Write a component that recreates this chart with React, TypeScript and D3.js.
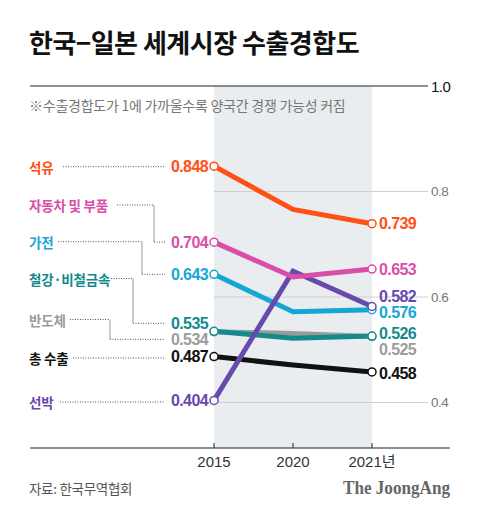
import React from "react";
import * as d3 from "d3";

const categories = ["석유", "자동차 및 부품", "가전", "철강·비철금속", "반도체", "총 수출", "선박"];
const years = ["2015", "2020", "2021"];
const values2015 = [0.848, 0.704, 0.643, 0.535, 0.534, 0.487, 0.404];
const values2020 = [0.766, 0.638, 0.572, 0.522, 0.531, 0.471, 0.649];
const values2021 = [0.739, 0.653, 0.576, 0.526, 0.525, 0.458, 0.582];
const yTicks = [1.0, 0.8, 0.6, 0.4];
const yearLabels = ["2015", "2020", "2021년"];

// styling / layout (not data)
const colors = ["#ff5016", "#d94fa8", "#16a6d6", "#138a8c", "#9a9a9a", "#111111", "#6849ad"];
const valueColors = ["#ff5016", "#d94fa8", "#16a6d6", "#138a8c", "#9c9c9c", "#111111", "#6849ad"];
const drawOrder = [4, 3, 5, 2, 6, 1, 0];
const catLabelY = [166.7, 205, 241.7, 278.5, 319.5, 358, 402];
const catLabelEnd = [63, 117, 58, 111, 70, 73, 60];
const elbowX = [null, 154, 142, 133, 110, null, null];
const leftDy = [0, 0, 0, -8, 7.5, 0, 0];
const rightDy = [0, 0, 3, -2.5, 12.5, 1.5, -10];

const W = 480, H = 516;
const FONT = "'Noto Sans CJK KR', 'Noto Sans', sans-serif";

export default function App() {
  const x = d3.scalePoint<string>().domain(years).range([214, 372]);
  const y = d3.scaleLinear().domain([0.4, 1.0]).range([402.5, 86]);
  const axisY = 448;
  const series = categories.map((c, i) => [values2015[i], values2020[i], values2021[i]]);
  const line = d3
    .line<number>()
    .x((_, j) => x(years[j]) as number)
    .y((v) => y(v));
  const x0 = x(years[0]) as number;
  const x2 = x(years[2]) as number;

  return (
    <div style={{ position: "absolute", left: 0, top: 0 }}>
      <svg width={W} height={H} style={{ display: "block", fontFamily: FONT }}>
        <rect width={W} height={H} fill="#fff" />
        <text x={29} y={53} fontSize={26} fontWeight={700} fill="#111" letterSpacing={-0.5}>
          한국−일본 세계시장 수출경합도
        </text>
        {/* shaded band */}
        <rect x={x0} y={y(1.0)} width={x2 - x0} height={axisY - y(1.0)} fill="#e9edf0" />
        <text x={29} y={104.5} fontSize={14} fill="#777" dominantBaseline="central" letterSpacing={-0.25}>
          ※수출경합도가 1에 가까울수록 양국간 경쟁 가능성 커짐
        </text>
        {/* gridlines */}
        {yTicks.map((t) => (
          <g key={t}>
            <line
              x1={t === 1 ? 30 : x0}
              x2={428}
              y1={y(t)}
              y2={y(t)}
              stroke={t === 1 ? "#222" : "#cfcfcf"}
              strokeWidth={1}
            />
            <text
              x={431}
              y={y(t)}
              dominantBaseline="central"
              fontSize={t === 1 ? 15 : 13.5}
              fill={t === 1 ? "#111" : "#777"}
              fontFamily="'Liberation Sans', Arial, sans-serif"
              letterSpacing={-0.5}
            >
              {t.toFixed(1)}
            </text>
          </g>
        ))}
        {/* bottom axis */}
        <line x1={30} x2={450} y1={axisY} y2={axisY} stroke="#222" strokeWidth={1} />
        {years.map((yr, j) => (
          <g key={yr}>
            <line x1={x(yr)} x2={x(yr)} y1={axisY - 5} y2={axisY} stroke="#222" />
            <text
              x={x(yr)}
              y={461}
              textAnchor="middle"
              dominantBaseline="central"
              fontSize={15}
              fill="#333"
              fontFamily="'Liberation Sans', 'Noto Sans CJK KR', sans-serif"
            >
              {yearLabels[j]}
            </text>
          </g>
        ))}
        {/* connectors */}
        {categories.map((c, i) => {
          const ly = catLabelY[i];
          const vy = y(values2015[i]) + leftDy[i];
          const ex = elbowX[i];
          if (ex == null) {
            return (
              <line key={c} x1={catLabelEnd[i]} x2={165} y1={ly} y2={ly} stroke="#555" strokeWidth={1} strokeDasharray="1 1.5" />
            );
          }
          return (
            <g key={c}>
              <line x1={catLabelEnd[i]} x2={ex} y1={ly} y2={ly} stroke="#555" strokeWidth={1} strokeDasharray="1 1.5" />
              <line x1={ex} x2={ex} y1={ly} y2={vy} stroke="#999" strokeWidth={1} />
              <line x1={ex} x2={165} y1={vy} y2={vy} stroke="#555" strokeWidth={1} strokeDasharray="1 1.5" />
            </g>
          );
        })}
        {/* category labels */}
        {categories.map((c, i) => (
          <text
            key={c}
            x={29}
            y={catLabelY[i]}
            dominantBaseline="central"
            fontSize={13.5}
            fontWeight={700}
            fill={valueColors[i]}
            letterSpacing={-0.2}
          >
            {c}
          </text>
        ))}
        {/* lines */}
        {drawOrder.map((i) => (
          <path key={i} d={line(series[i]) as string} fill="none" stroke={colors[i]} strokeWidth={5} />
        ))}
        {/* markers */}
        {drawOrder.map((i) => (
          <g key={"m" + i}>
            <circle cx={x0} cy={y(values2015[i])} r={4} fill="#fff" stroke={colors[i]} strokeWidth={1.5} />
            <circle cx={x2} cy={y(values2021[i])} r={4} fill="#fff" stroke={colors[i]} strokeWidth={1.5} />
          </g>
        ))}
        {/* value labels */}
        {categories.map((c, i) => (
          <g key={"v" + c}>
            <text
              x={208}
              y={y(values2015[i]) + leftDy[i]}
              textAnchor="end"
              dominantBaseline="central"
              fontSize={16}
              fontWeight={700}
              fill={valueColors[i]}
              fontFamily="'Liberation Sans', Arial, sans-serif"
              letterSpacing={-0.6}
            >
              {values2015[i].toFixed(3)}
            </text>
            <text
              x={379}
              y={y(values2021[i]) + rightDy[i]}
              dominantBaseline="central"
              fontSize={16}
              fontWeight={700}
              fill={valueColors[i]}
              fontFamily="'Liberation Sans', Arial, sans-serif"
              letterSpacing={-0.6}
            >
              {values2021[i].toFixed(3)}
            </text>
          </g>
        ))}
        {/* footer */}
        <text x={29} y={488} dominantBaseline="central" fontSize={13.5} fill="#555" letterSpacing={-0.3}>
          자료: 한국무역협회
        </text>
        <text
          x={450}
          y={488}
          textAnchor="end"
          dominantBaseline="central"
          fontSize={18}
          fontWeight={700}
          fill="#666"
          fontFamily="'Liberation Serif', 'DejaVu Serif', serif"
          textLength={107}
          lengthAdjust="spacingAndGlyphs"
        >
          The JoongAng
        </text>
      </svg>
    </div>
  );
}
